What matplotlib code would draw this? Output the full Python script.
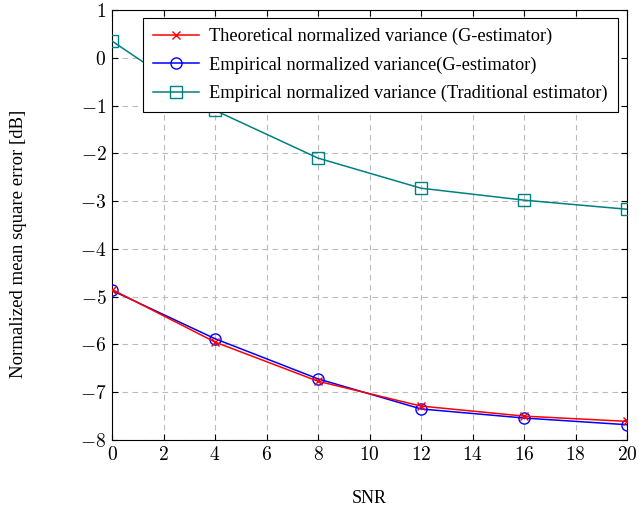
import matplotlib
matplotlib.use("Agg")
import matplotlib.pyplot as plt
from matplotlib.ticker import FuncFormatter, MultipleLocator

plt.rcParams['font.family'] = ['Liberation Serif', 'DejaVu Serif']
plt.rcParams['mathtext.fontset'] = 'cm'

snr = [0, 4, 8, 12, 16, 20]
theo_g = [-4.85, -5.95, -6.77, -7.29, -7.50, -7.61]
emp_g = [-4.87, -5.88, -6.72, -7.35, -7.54, -7.68]
emp_trad = [0.35, -1.10, -2.10, -2.73, -2.98, -3.17]

labels = ["Theoretical normalized variance (G-estimator)",
          "Empirical normalized variance(G-estimator)",
          "Empirical normalized variance (Traditional estimator)"]

fig = plt.figure(figsize=(6.39, 5.15), dpi=100)
ax = fig.add_axes([112/639, 75/515, 515/639, 430/515])

teal = (0, 0.5, 0.5)
ax.plot(snr, theo_g, color='red', marker='x', ms=6, mew=1.0, lw=1.1, label=labels[0], zorder=4)
ax.plot(snr, emp_g, color='blue', marker='o', ms=8, mfc='none', mew=1.0, lw=1.1, label=labels[1], zorder=3)
ax.plot(snr, emp_trad, color=teal, marker='s', ms=8, mfc='none', mew=1.0, lw=1.1, label=labels[2], zorder=3)

ax.set_xlim(0, 20)
ax.set_ylim(-8, 1)
ax.xaxis.set_major_locator(MultipleLocator(2))
ax.yaxis.set_major_locator(MultipleLocator(1))
fmt = FuncFormatter(lambda v, p: r"$%d$" % round(v))
ax.xaxis.set_major_formatter(fmt)
ax.yaxis.set_major_formatter(fmt)
ax.tick_params(direction='in', top=True, right=True, length=4, labelsize=14, width=0.8, pad=4)
ax.grid(True, color='#bbbbbb', linestyle=(0, (5, 4)), lw=0.8)
ax.set_axisbelow(True)
for s in ax.spines.values():
    s.set_linewidth(0.8)

ax.set_xlabel("SNR", fontsize=13)
ax.xaxis.set_label_coords(0.5, -50/430)
ax.set_ylabel("Normalized mean square error [dB]", fontsize=13.5)
ax.yaxis.set_label_coords(-85/515, 0.455)

leg = ax.legend(loc='upper left', bbox_to_anchor=(31/515, 1 - 8/430), fontsize=13.2,
                frameon=True, fancybox=False, edgecolor='black', framealpha=1,
                handlelength=2.5, borderpad=0.55, labelspacing=0.6, handletextpad=0.55,
                borderaxespad=0)
leg.get_frame().set_linewidth(0.8)

fig.savefig("out.png", dpi=100)
